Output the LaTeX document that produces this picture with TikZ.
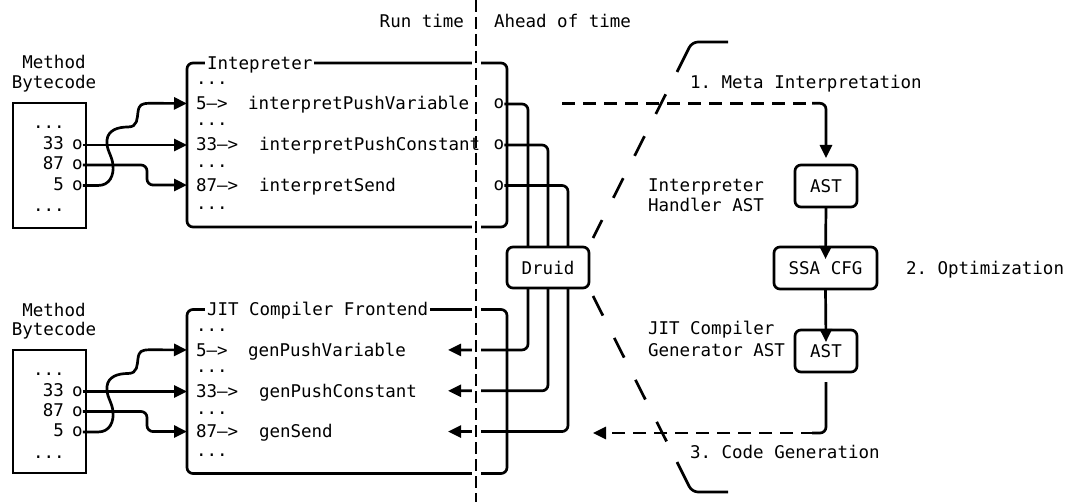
\documentclass[tikz,border=0pt]{standalone}
\usepackage{fontspec}
\setmainfont{DejaVu Sans Mono}
\usetikzlibrary{arrows.meta,calc}
\pgfdeclarelayer{bg}
\pgfsetlayers{bg,main}
\frenchspacing
\begin{document}
\begin{tikzpicture}[x=1pt,y=-1pt,
  every node/.style={font=\fontsize{17.5}{20}\selectfont\frenchspacing, inner sep=0pt, outer sep=0pt},
  lw/.style={line width=2.7pt},
  sqbox/.style={draw, lw, anchor=north west},
  rbox/.style={draw, lw, rounded corners=6pt},
  conn/.style={lw, rounded corners=6pt},
  tip/.style={-{Triangle[length=13pt,width=12pt]}},
  mdash/.style={dash pattern=on 13pt off 8pt},
  divider/.style={lw, dash pattern=on 12pt off 5pt, preaction={draw=white, line width=9pt, solid}},
  lens/.style={lw, dash pattern=on 22pt off 25pt},
  ttl/.style={anchor=base west, fill=white, inner xsep=2pt, inner ysep=1pt},
  lbl/.style={anchor=base west},
  num/.style={anchor=base east},
  ctr/.style={anchor=base}
]
\useasboundingbox (0,0) rectangle (1070,502);

% ---------- text (main layer) ----------
\node[anchor=base east] (rt) at (464,27.4) {Run time};
\node[lbl] (aot) at (494,27.4) {Ahead of time};

% upper bytecode
\node[ctr] at (54,68.1) {Method};
\node[ctr] at (54,88.1) {Bytecode};
\node[lbl] at (33,128.5) {...};
\node (boA33) at (77.5,145) {o};
\node (boA87) at (77.5,165) {o};
\node (boA5) at (77.5,185.5) {o};
\node[num] at (64,149.9) {33};
\node[num] at (64,169.9) {87};
\node[num] at (64,190.4) {5};
\node[lbl] at (33,211.5) {...};

% interpreter
\node[ttl] at (205,69.4) {Intepreter};
\node[lbl] at (196,84.5) {...};
\node[lbl] (ra5) at (196,109.7) {5-->};
\node[lbl] at (248,109.7) {interpretPushVariable};
\node[lbl] at (196,126) {...};
\node[lbl] (ra33) at (196,150.7) {33-->};
\node[lbl] at (259,150.7) {interpretPushConstant};
\node[lbl] at (196,167.5) {...};
\node[lbl] (ra87) at (196,191.4) {87-->};
\node[lbl] at (259,191.4) {interpretSend};
\node[lbl] at (196,209.5) {...};
\node (pa1) at (499,104) {o};
\node (pa2) at (499,145) {o};
\node (pa3) at (499,185.5) {o};

% lower bytecode
\node[ctr] at (54,316.1) {Method};
\node[ctr] at (54,335.7) {Bytecode};
\node[lbl] at (33,375) {...};
\node (boB33) at (77.5,391.5) {o};
\node (boB87) at (77.5,411.5) {o};
\node (boB5) at (77.5,432) {o};
\node[num] at (64,396.4) {33};
\node[num] at (64,416.4) {87};
\node[num] at (64,436.9) {5};
\node[lbl] at (33,458) {...};

% JIT frontend
\node[ttl] at (205,315.9) {JIT Compiler Frontend};
\node[lbl] at (196,331) {...};
\node[lbl] (rb5) at (196,356.2) {5-->};
\node[lbl] at (248,356.2) {genPushVariable};
\node[lbl] at (196,372.5) {...};
\node[lbl] (rb33) at (196,397.2) {33-->};
\node[lbl] at (259,397.2) {genPushConstant};
\node[lbl] at (196,414) {...};
\node[lbl] (rb87) at (196,437.9) {87-->};
\node[lbl] at (259,437.9) {genSend};
\node[lbl] at (196,456) {...};

% right labels
\node[lbl] at (690,89) {1. Meta Interpretation};
\node[lbl] at (648,191.4) {Interpreter};
\node[lbl] at (648,211.4) {Handler AST};
\node[lbl] at (648,334.7) {JIT Compiler};
\node[lbl] at (648,356.4) {Generator AST};
\node[lbl] at (906,274.4) {2. Optimization};
\node[lbl] at (690,458.4) {3. Code Generation};

\coordinate (jitx) at (448,0);
\coordinate (mstart) at (562,103.3);
\coordinate (cgend) at (593,433);

% ---------- shapes and connectors (background layer) ----------
\begin{pgfonlayer}{bg}
\node[sqbox, minimum width=73pt, minimum height=125pt] (bcA) at (13,103) {};
\node[sqbox, minimum width=73pt, minimum height=123pt] (bcB) at (13,350) {};
\node[rbox, anchor=north west, minimum width=320pt, minimum height=164pt] (interp) at (187,63) {};
\node[rbox, anchor=north west, minimum width=320pt, minimum height=164pt] (jit) at (187,309.5) {};
\node[rbox, minimum width=82pt, minimum height=41pt] (druid) at (548,267.5) {Druid};
\node[rbox, minimum width=62pt, minimum height=42pt] (ast1) at (826,186) {AST};
\node[rbox, minimum width=103pt, minimum height=42pt] (ssa) at (825.5,268) {SSA CFG};
\node[rbox, minimum width=62pt, minimum height=42pt] (ast2) at (826,351) {AST};

% upper bytecode -> interpreter
\draw[conn,tip] (boA33.east) -- (boA33.east -| interp.west);
\draw[conn,tip] (boA87.east) -| ($(ra87.west -| interp.west)+(-40,0)$) -- (ra87.west -| interp.west);
\draw[lw,tip] (boA5.east) -- (98,185.5) .. controls (110,185.5) and (114,175) .. (113,165)
  .. controls (112,155) and (106,150) .. (107,140) .. controls (108,130) and (118,127) .. (128,127)
  .. controls (138,127) and (137,118) .. (138,112) .. controls (139,105) and (141,103.3) .. (150,103.3)
  -- (ra5.west -| interp.west);

% lower bytecode -> JIT
\draw[conn,tip] (boB33.east) -- (boB33.east -| jit.west);
\draw[conn,tip] (boB87.east) -| ($(rb87.west -| jit.west)+(-40,0)$) -- (rb87.west -| jit.west);
\draw[lw,tip] (boB5.east) -- (98,432) .. controls (110,432) and (114,421.5) .. (113,411.5)
  .. controls (112,401.5) and (106,396.5) .. (107,386.5) .. controls (108,376.5) and (118,373.5) .. (128,373.5)
  .. controls (138,373.5) and (137,364.5) .. (138,358.5) .. controls (139,351.5) and (141,349.8) .. (150,349.8)
  -- (rb5.west -| jit.west);

% interpreter -> Druid
\draw[conn] (pa1.east) -| ($(druid.north)+(-20,0)$);
\draw[conn] (pa2.east) -| (druid.north);
\draw[conn] (pa3.east) -| ($(druid.north)+(20,0)$);

% Druid -> JIT
\draw[conn,tip] ($(druid.south)+(-20,0)$) |- (rb5.west -| jitx);
\draw[conn,tip] (druid.south) |- (rb33.west -| jitx);
\draw[conn,tip] ($(druid.south)+(20,0)$) |- (rb87.west -| jitx);

% meta interpretation
\draw[lw, mdash] (mstart) -- ($(mstart -| ast1.north)+(-12,0)$);
\draw[conn,tip] ($(mstart -| ast1.north)+(-14,0)$) -- (mstart -| ast1.north) -- ($(ast1.north)+(0,-7)$);
\draw[lw,tip] (ast1.south) -- ($(ssa.north)+(0,12)$);
\draw[lw,tip] (ssa.south) -- ($(ast2.north)+(0,12)$);
\draw[conn] ($(ast2.south)+(0,10)$) -- (cgend -| ast2.south) -- ($(cgend -| ast2.south)+(-14,0)$);
\draw[lw, mdash, tip] ($(cgend -| ast2.south)+(-12,0)$) -- (cgend);

% lens
\draw[conn] (728,42) -- (692,42) -- (677,72);
\draw[lens, dash phase=22pt] (677,72) -- (593,238);
\draw[lens] (593,296) -- (677,462);
\draw[conn] (677,462) -- (692,492) -- (728,492);

% divider
\draw[divider] (476,0) -- (476,502);
\end{pgfonlayer}
\end{tikzpicture}
\end{document}
